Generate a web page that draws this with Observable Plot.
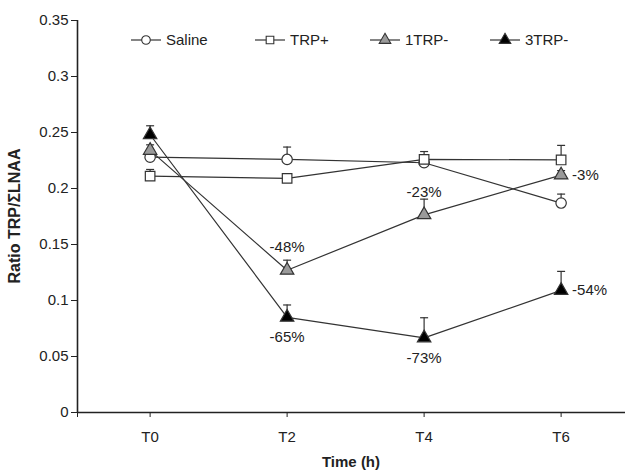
<!DOCTYPE html>
<html><head><meta charset="utf-8">
<script src="https://cdn.jsdelivr.net/npm/d3@7"></script>
<script src="https://cdn.jsdelivr.net/npm/@observablehq/plot@0.6"></script>
<style>body{margin:0;background:#fff} svg{display:block}</style>
</head><body><div id="chart"></div>
<script>
const timeLabels = ["T0", "T2", "T4", "T6"];
const seriesNames = ["Saline", "TRP+", "1TRP-", "3TRP-"];
const saline = [0.228, 0.226, 0.223, 0.187];
const salineErr = [0.004, 0.011, 0.004, 0.008];
const trpPlus = [0.211, 0.209, 0.226, 0.2255];
const trpPlusErr = [0.006, 0.004, 0.007, 0.013];
const trp1 = [0.234, 0.127, 0.1765, 0.212];
const trp1Err = [0.005, 0.009, 0.014, 0.004];
const trp3 = [0.248, 0.085, 0.0666, 0.109];
const trp3Err = [0.008, 0.011, 0.018, 0.017];
const pct1 = ["", "-48%", "-23%", "-3%"];
const pct3 = ["", "-65%", "-73%", "-54%"];
const yTicks = [0, 0.05, 0.1, 0.15, 0.2, 0.25, 0.3, 0.35];

const values = [saline, trpPlus, trp1, trp3];
const errs = [salineErr, trpPlusErr, trp1Err, trp3Err];
const symbols = ["circle", "square", "triangle", "triangle"];
const fills = ["white", "white", "#9a9a9a", "black"];
const radii = [5.2, 5.4, 5, 5];

const rows = [];
seriesNames.forEach((s, k) => values[k].forEach((v, i) => rows.push({series: s, k, i, v, e: errs[k][i]})));
const labelRows = [];
[[pct1, trp1], [pct3, trp3]].forEach(([p, vals], j) => p.forEach((t, i) => { if (t) labelRows.push({j, i, v: vals[i], t}); }));

const xMin = -0.53, xMax = 3.47;
const capSymbol = {draw(ctx, size) { const r = Math.sqrt(size / Math.PI); ctx.moveTo(-r, 0); ctx.lineTo(r, 0); }};
const FONT = "Liberation Sans, Arial, Helvetica, sans-serif";
const ink = "#222";

const marks = [
  Plot.ruleY([0], {stroke: ink, strokeWidth: 1.6}),
  Plot.ruleX([xMin], {stroke: ink, strokeWidth: 1.6}),
  Plot.axisY({ticks: yTicks, tickSize: 6, tickPadding: 3, stroke: ink, fill: ink, fontSize: 15,
    tickFormat: d => d === 0 ? "0" : String(+d.toFixed(2)), label: null}),
  Plot.axisX({ticks: [xMin, 0, 1, 2, 3], tickSize: 5, tickPadding: 14, stroke: ink, fill: ink, fontSize: 15,
    tickFormat: d => timeLabels[d] ?? "", label: null}),
  Plot.line(rows, {x: "i", y: "v", z: "series", stroke: "#333", strokeWidth: 1.2}),
  Plot.ruleX(rows, {x: "i", y1: "v", y2: d => d.v + d.e, stroke: "#333", strokeWidth: 1.2}),
  Plot.dot(rows, {x: "i", y: d => d.v + d.e, symbol: capSymbol, r: 4, stroke: "#333", strokeWidth: 1.2}),
  ...seriesNames.map((s, k) => Plot.dot(rows.filter(d => d.k === k), {x: "i", y: "v",
    symbol: symbols[k], r: radii[k], fill: fills[k], stroke: "#333", strokeWidth: 1.2})),
  Plot.text(labelRows.filter(d => d.j === 0 && d.i < 3), {x: "i", y: "v", text: "t", dy: -23, fontSize: 15, fill: ink}),
  Plot.text(labelRows.filter(d => d.j === 1 && d.i < 3), {x: "i", y: "v", text: "t", dy: 20, fontSize: 15, fill: ink}),
  Plot.text(labelRows.filter(d => d.i === 3), {x: "i", y: "v", text: "t", dx: 11, textAnchor: "start", fontSize: 15, fill: ink})
];

const chart = Plot.plot({
  width: 625, height: 473,
  marginLeft: 77, marginRight: 0, marginTop: 20, marginBottom: 61,
  style: {fontFamily: FONT, background: "white", color: ink},
  x: {type: "linear", domain: [xMin, xMax]},
  y: {domain: [0, 0.35]},
  marks
});
document.getElementById("chart").appendChild(chart);

// Titles and legend
const svg = d3.select(chart);
svg.append("text").attr("x", 351).attr("y", 467).attr("text-anchor", "middle")
  .attr("font-family", FONT).attr("font-size", 15).attr("font-weight", "bold").attr("fill", ink).text("Time (h)");
svg.append("text").attr("transform", "translate(20,216) rotate(-90)").attr("text-anchor", "middle")
  .attr("font-family", FONT).attr("font-size", 16).attr("font-weight", "bold").attr("fill", ink).text("Ratio TRP/ΣLNAA");

const legendX = [131, 255, 370, 490];
const legendY = 40;
const g = svg.append("g");
seriesNames.forEach((s, k) => {
  const x0 = legendX[k];
  g.append("line").attr("x1", x0).attr("x2", x0 + 30).attr("y1", legendY).attr("y2", legendY).attr("stroke", "#333").attr("stroke-width", 1.2);
  g.append("path").attr("transform", `translate(${x0 + 15},${legendY})`)
    .attr("d", d3.symbol(symbols[k] === "circle" ? d3.symbolCircle : symbols[k] === "square" ? d3.symbolSquare : d3.symbolTriangle, Math.PI * 4.3 * 4.3)())
    .attr("fill", fills[k]).attr("stroke", "#333").attr("stroke-width", 1.1);
  g.append("text").attr("x", x0 + 35).attr("y", legendY).attr("dy", "0.35em").attr("text-anchor", "start")
    .attr("font-family", FONT).attr("font-size", 15).attr("fill", ink).text(s);
});
</script>
</body></html>
